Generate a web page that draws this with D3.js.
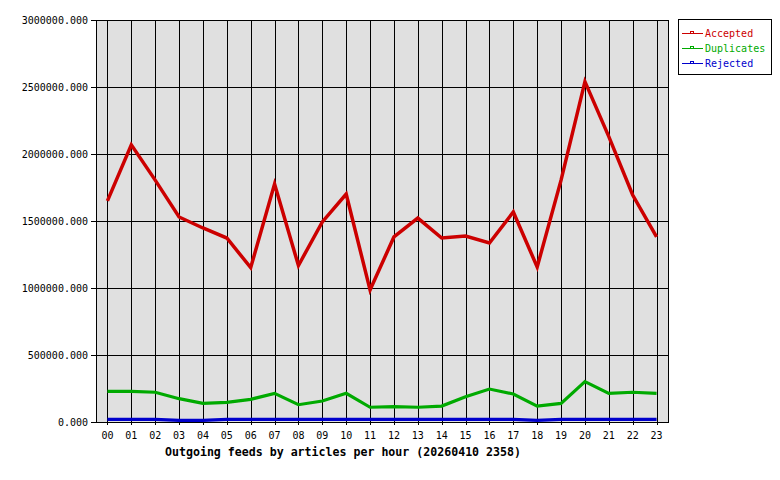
<!DOCTYPE html>
<html>
<head>
<meta charset="utf-8">
<script src="https://cdn.jsdelivr.net/npm/d3@7"></script>
<style>
  html, body { margin: 0; padding: 0; background: #fff; }
  svg { display: block; }
  text { font-family: "DejaVu Sans Mono", "Liberation Mono", monospace; }
</style>
</head>
<body>
<svg id="chart" width="780" height="480"></svg>
<script>
const hours = ["00","01","02","03","04","05","06","07","08","09","10","11","12","13","14","15","16","17","18","19","20","21","22","23"];
const accepted = [1650000,2068000,1805000,1530000,1448000,1373000,1152000,1776000,1168000,1493000,1701000,985000,1381000,1522000,1373000,1388000,1336000,1567000,1157000,1805000,2540000,2130000,1694000,1381000];
const duplicates = [229000,229000,222000,174000,139000,147000,169000,214000,129000,157000,214000,110000,114000,110000,119000,189000,246000,209000,119000,139000,301000,214000,222000,214000];
const rejected = [20000,20000,20000,12000,12000,20000,20000,20000,20000,20000,20000,20000,20000,20000,20000,20000,20000,20000,12000,20000,20000,20000,20000,20000];
const yTicks = [0,500000,1000000,1500000,2000000,2500000,3000000];
const seriesNames = ["Accepted","Duplicates","Rejected"];
const seriesColors = ["#cc0000","#00aa00","#0000cc"];
const titleText = "Outgoing feeds by articles per hour (20260410 2358)";

const svg = d3.select("#chart");
const L = 96, R = 668, T = 20, B = 422;

const x = d3.scalePoint().domain(hours).range([95.5, 668.5]).padding(0.5);
const y = d3.scaleLinear().domain([0, 3000000]).range([B, T]);

// plot background
svg.append("rect").attr("x", L).attr("y", T).attr("width", R - L).attr("height", B - T)
  .attr("fill", "#e0e0e0");

// horizontal grid
const gGrid = svg.append("g").attr("stroke", "#000").attr("stroke-width", 1).attr("shape-rendering", "crispEdges");
yTicks.forEach(t => {
  const yy = Math.round(y(t)) + 0.5;
  gGrid.append("line").attr("x1", L - 5).attr("x2", R).attr("y1", yy).attr("y2", yy);
});
// vertical grid
hours.forEach(h => {
  const xx = Math.round(x(h)) + 0.5;
  gGrid.append("line").attr("x1", xx).attr("x2", xx).attr("y1", T).attr("y2", B + 3);
});

// y labels
svg.append("g").selectAll("text").data(yTicks).join("text")
  .attr("x", 88).attr("y", d => y(d)).attr("dy", "0.35em")
  .attr("text-anchor", "end").attr("font-size", "10px").attr("fill", "#000")
  .text(d => d3.format(".3f")(d));

// x labels
svg.append("g").selectAll("text").data(hours).join("text")
  .attr("x", d => x(d)).attr("y", 435).attr("dy", "0.35em")
  .attr("text-anchor", "middle").attr("font-size", "10px").attr("fill", "#000")
  .text(d => d);

// title
svg.append("text").attr("x", 343).attr("y", 452).attr("dy", "0.35em")
  .attr("text-anchor", "middle").attr("font-size", "11.6px").attr("font-weight", "bold")
  .attr("fill", "#000").text(titleText);

// lines
const line = d3.line().x((d, i) => x(hours[i])).y(d => y(d));
const allSeries = [accepted, duplicates, rejected];
const widths = [3.5, 3.2, 3.2];
[2, 1, 0].forEach(i => {
  svg.append("path").datum(allSeries[i])
    .attr("d", line).attr("fill", "none")
    .attr("stroke", seriesColors[i]).attr("stroke-width", widths[i])
    .attr("stroke-linejoin", "miter");
});

// plot border
svg.append("rect").attr("x", L + 0.5).attr("y", T + 0.5).attr("width", R - L).attr("height", B - T)
  .attr("fill", "none").attr("stroke", "#000").attr("stroke-width", 1).attr("shape-rendering", "crispEdges");

// legend
const lg = svg.append("g");
lg.append("rect").attr("x", 678.5).attr("y", 19.5).attr("width", 93).attr("height", 55)
  .attr("fill", "#fff").attr("stroke", "#000").attr("stroke-width", 1).attr("shape-rendering", "crispEdges");
seriesNames.forEach((name, i) => {
  const yy = 33 + i * 15;
  lg.append("line").attr("x1", 682).attr("x2", 703).attr("y1", yy + 0.5).attr("y2", yy + 0.5)
    .attr("stroke", seriesColors[i]).attr("stroke-width", 1).attr("shape-rendering", "crispEdges");
  lg.append("rect").attr("x", 690.5).attr("y", yy - 1.5).attr("width", 3).attr("height", 2)
    .attr("fill", "none").attr("stroke", seriesColors[i]).attr("stroke-width", 1).attr("shape-rendering", "crispEdges");
  lg.append("text").attr("x", 705).attr("y", yy).attr("dy", "0.35em")
    .attr("font-size", "10px").attr("fill", seriesColors[i]).text(name);
});
</script>
</body>
</html>
